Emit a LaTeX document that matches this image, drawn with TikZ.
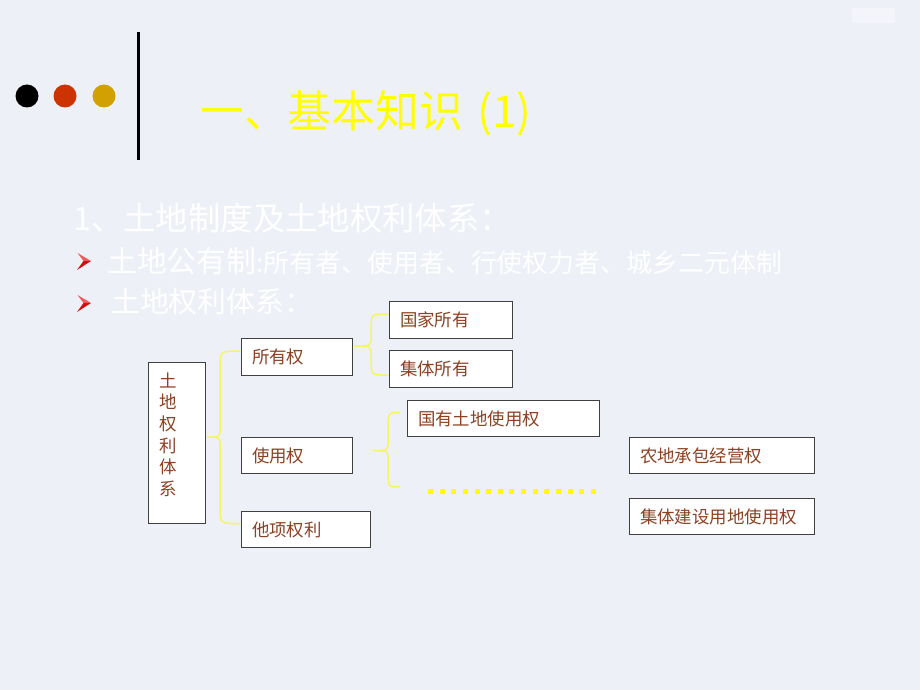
\documentclass[tikz,border=0pt]{standalone}
\usepackage{fontspec}
\setmainfont{Noto Sans CJK SC}
\usetikzlibrary{calc}
\definecolor{bg}{RGB}{238,240,248}
\definecolor{dotred}{RGB}{204,51,0}
\definecolor{dotgold}{RGB}{210,160,0}
\definecolor{titleyellow}{RGB}{255,255,0}
\definecolor{braceyellow}{RGB}{245,245,100}
\definecolor{boxtext}{RGB}{140,65,35}
\definecolor{boxline}{RGB}{64,64,64}
\definecolor{bulletlight}{RGB}{240,90,90}
\definecolor{bulletdark}{RGB}{210,15,15}
\tikzset{
  box/.style={draw=boxline, fill=white, line width=1.2bp, anchor=north west,
    inner xsep=10.5bp, inner ysep=0pt, align=left, text=boxtext,
    font=\fontsize{17.5}{21.7}\selectfont},
  brace/.style={draw=braceyellow, line width=1.5bp, line cap=round, line join=round},
  whitetext/.style={text=white, anchor=west, inner sep=0pt},
}
\newcommand{\drawbrace}[4]{%
  \draw[brace] let \p1=(#1), \p2=(#2), \p3=(#3), \p4=(#4) in
    (\p1) .. controls (\x4,\y1) .. (\x4,\y1-14pt) -- (\x4,\y2+11pt)
    .. controls (\x4,\y2) .. (\p2)
    .. controls (\x4,\y2) .. (\x4,\y2-11pt) -- (\x4,\y3+14pt)
    .. controls (\x4,\y3) .. (\p3);}
\begin{document}
\begin{tikzpicture}[x=1bp,y=-1bp]
\fill[bg] (0,0) rectangle (920,690);
\useasboundingbox (0,0) rectangle (920,690);
% faint mark top right
\fill[white, opacity=0.35] (852,8) rectangle (895,23);
% header dots and rule
\fill[black] (27,96) circle[radius=11.5bp];
\fill[dotred] (65,96) circle[radius=11.5bp];
\fill[dotgold] (104,96) circle[radius=11.5bp];
\draw[black, line width=3bp] (138,32) -- (138,160);
% title
\node[anchor=west, inner sep=0pt, text=titleyellow, font=\fontsize{44}{50}\selectfont]
  (title) at (200,113) {一、基本知识\hspace{14bp}(1)};
% text lines
\node[whitetext, font=\fontsize{32.5}{38}\selectfont] (l1) at (73,218) {1、土地制度及土地权利体系：};
\node[whitetext] (l2) at (107,261)
  {\fontsize{30}{36}\selectfont 土地公有制\fontsize{26}{30}\selectfont :所有者、使用者、行使权力者、城乡二元体制};
\node[whitetext, font=\fontsize{29}{34}\selectfont] (l3) at (111,302) {土地权利体系：};
% bullets
\foreach \yy in {261,303}{
  \fill[bulletlight] (77.5,\yy-8) -- (91,\yy) -- (83.5,\yy) -- cycle;
  \fill[bulletdark] (83.5,\yy) -- (91,\yy) -- (77,\yy+9) -- cycle;
}
% boxes
\node[box, text width=36bp, minimum height=161bp, inner ysep=10bp] (tudi) at (148,362)
  {\parbox[c][141bp][t]{36bp}{土\\地\\权\\利\\体\\系}};
\node[box, text width=90bp, minimum height=37bp] (suoyou) at (241,338) {所有权};
\node[box, text width=102bp, minimum height=37bp] (guojia) at (389,301) {国家所有};
\node[box, text width=102bp, minimum height=37bp] (jiti) at (389,350) {集体所有};
\node[box, text width=90bp, minimum height=36bp] (shiyong) at (241,437) {使用权};
\node[box, text width=171bp, minimum height=36bp] (guoyou) at (407,400) {国有土地使用权};
\node[box, text width=164bp, minimum height=36bp] (nongdi) at (629,437) {农地承包经营权};
\node[box, text width=164bp, minimum height=36bp] (jianshe) at (629,498) {集体建设用地使用权};
\node[box, text width=108bp, minimum height=36bp] (taxiang) at (241,511) {他项权利};
% dotted continuation
\coordinate (dotsL) at (428,491);
\coordinate (dotsR) at (596,491);
\draw[titleyellow, line width=5bp, dash pattern=on 5bp off 6.64bp] (dotsL) -- (dotsR);
% braces
\drawbrace{$(suoyou.west)+(-1,-6)$}{$(tudi.east)+(1,-6)$}{$(taxiang.west)+(-1,-6)$}{$(tudi.east)+(14,0)$}
\drawbrace{$(guojia.west)+(-1,-6)$}{$(suoyou.east)+(1,-11)$}{$(jiti.west)+(-1,6)$}{$(suoyou.east)+(18,0)$}
\coordinate (b3end) at (400,487);
\drawbrace{$(guoyou.west)+(-7,-6)$}{$(shiyong.east)+(20,-5)$}{b3end}{$(shiyong.east)+(35,0)$}
\end{tikzpicture}
\end{document}
